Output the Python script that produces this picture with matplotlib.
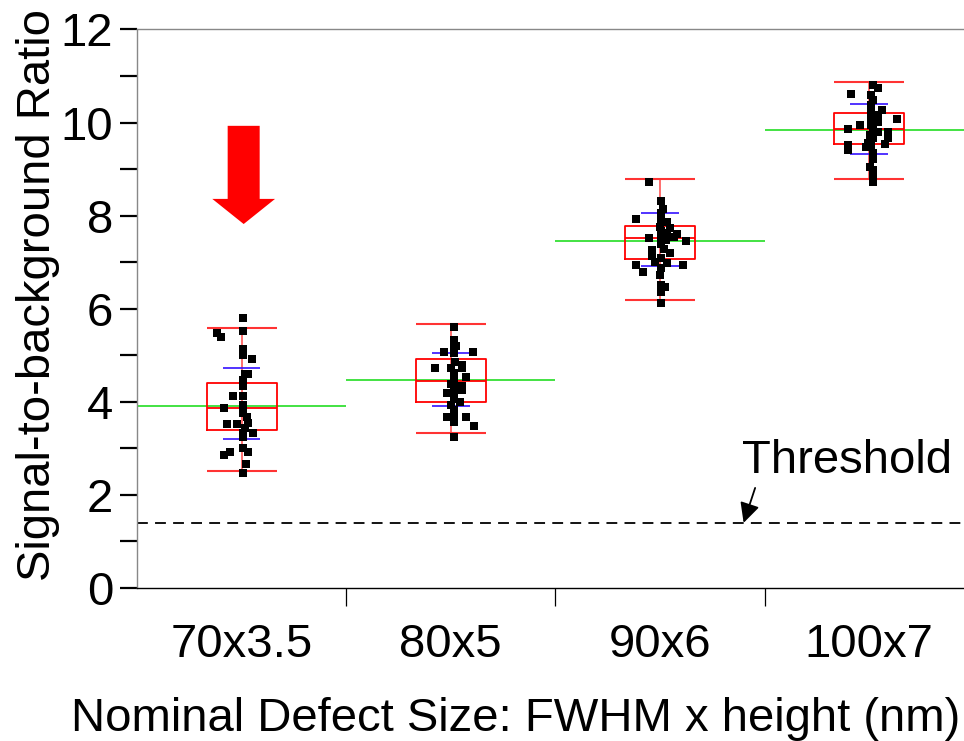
import matplotlib
matplotlib.use("Agg")
from matplotlib import pyplot as plt
from matplotlib.patches import FancyArrow

plt.rcParams['font.family'] = ['Liberation Sans', 'DejaVu Sans']

# categories
sizes = ['70x3.5', '80x5', '90x6', '100x7']

# box stats: lower cap, q1, median, q3, upper cap
cap_lo = [2.51, 3.33, 6.19, 8.79]
q1 = [3.39, 4.00, 7.07, 9.54]
med = [3.87, 4.45, 7.52, 9.86]
q3 = [4.40, 4.92, 7.78, 10.21]
cap_hi = [5.59, 5.67, 8.79, 10.87]
# mean and mean +/- sd
means = [3.91, 4.46, 7.45, 9.85]
sd_lo = [3.20, 3.91, 6.92, 9.33]
sd_hi = [4.73, 5.05, 8.06, 10.40]

# individual measurements (y) and their horizontal jitter
pts1 = [5.80, 5.53, 5.47, 5.40, 5.13, 5.01, 4.93, 4.60, 4.60, 4.47, 4.33, 4.13, 4.13, 3.86, 3.93,
        3.75, 3.67, 3.52, 3.52, 3.55, 3.44, 3.33, 3.33, 3.25, 3.01, 2.93, 2.86, 2.93, 2.66, 2.46]
jit1 = [0.005, 0.005, -0.116, -0.10, 0.005, 0.005, 0.05, 0.016, 0.03, 0.005, 0.005, -0.041, 0.005, -0.084, 0.005,
        0.005, 0.026, -0.07, -0.022, 0.03, 0.016, 0.005, 0.054, 0.005, 0.005, -0.055, -0.084, 0.03, 0.021, 0.005]
pts2 = [5.60, 5.33, 5.22, 5.20, 5.06, 5.06, 5.04, 4.86, 4.79, 4.72, 4.72, 4.72, 4.61, 4.54, 4.47, 4.38,
        4.33, 4.31, 4.25, 4.20, 4.15, 4.05, 4.00, 3.93, 3.82, 3.67, 3.67, 3.57, 3.67, 3.47, 3.25]
jit2 = [0.014, 0.014, 0.014, 0.027, -0.033, 0.104, 0.014, 0.019, 0.056, -0.076, 0.0, 0.056, 0.014, 0.072, 0.014, 0.003,
        0.056, 0.014, 0.056, -0.019, 0.014, 0.014, 0.043, 0.0, 0.014, -0.019, 0.014, 0.014, 0.072, 0.11, 0.014]
pts3 = [8.73, 8.32, 8.14, 8.05, 7.93, 7.93, 7.87, 7.76, 7.73, 7.66, 7.60, 7.62, 7.55, 7.53, 7.51, 7.48, 7.46,
        7.39, 7.26, 7.28, 7.19, 7.13, 7.08, 7.01, 6.99, 6.93, 6.93, 6.87, 6.80, 6.73, 6.51, 6.46, 6.37, 6.12]
jit3 = [-0.053, 0.007, 0.014, 0.007, -0.113, 0.007, 0.033, 0.0, 0.046, 0.007, 0.081, 0.033, 0.065, -0.053, 0.007, 0.031, 0.126,
        0.007, -0.036, 0.018, 0.05, -0.036, 0.007, -0.025, 0.033, -0.113, 0.11, 0.007, -0.081, 0.0, 0.007, 0.022, 0.007, 0.007]
pts4 = [10.81, 10.74, 10.61, 10.59, 10.49, 10.38, 10.27, 10.27, 10.16, 10.07, 10.13, 9.95, 10.02, 9.95, 9.86, 9.84, 9.80,
        9.80, 9.73, 9.66, 9.66, 9.57, 9.54, 9.52, 9.50, 9.41, 9.48, 9.34, 9.21, 9.05, 8.98, 8.84, 8.73]
jit4 = [0.018, 0.042, -0.089, 0.01, 0.018, 0.01, 0.01, 0.063, 0.042, 0.134, 0.01, -0.046, 0.042, 0.01, -0.102, 0.018, 0.042,
        0.089, 0.002, 0.089, 0.018, -0.006, 0.074, -0.102, 0.01, -0.102, -0.014, 0.018, 0.018, 0.002, 0.018, 0.018, 0.018]
points = [pts1, pts2, pts3, pts4]
jitter = [jit1, jit2, jit3, jit4]

threshold = 1.40

fig = plt.figure(figsize=(9.64, 7.41), dpi=100)
ax = fig.add_axes([0.1421, 0.2065, 0.868, 0.7537])

pos = [1, 2, 3, 4]
box_w = 0.335
fs = 34

# green mean lines span the whole category
ax.hlines(means, [p - 0.5 for p in pos], [p + 0.5 for p in pos], color='#22dd22', lw=1.2, zorder=2)

# whisker through the box
ax.vlines(pos, cap_lo, cap_hi, color='#ff5555', lw=1.2, zorder=2)
ax.hlines(cap_lo, [p - box_w / 2 for p in pos], [p + box_w / 2 for p in pos], color='#ff3333', lw=1.5, zorder=2)
ax.hlines(cap_hi, [p - box_w / 2 for p in pos], [p + box_w / 2 for p in pos], color='#ff3333', lw=1.5, zorder=2)

stats = []
for i in range(4):
    stats.append({'med': med[i], 'q1': q1[i], 'q3': q3[i], 'whislo': q1[i], 'whishi': q3[i], 'fliers': []})
ax.bxp(stats, positions=pos, widths=box_w, showcaps=False, showfliers=False, manage_ticks=False,
       boxprops=dict(color='#ff0000', lw=1.3), medianprops=dict(color='#ff0000', lw=1.3),
       whiskerprops=dict(lw=0))

# blue mean +/- sd marks
ax.hlines(sd_lo, [p - 0.09 for p in pos], [p + 0.09 for p in pos], color='#3311ff', lw=1.2, zorder=3)
ax.hlines(sd_hi, [p - 0.09 for p in pos], [p + 0.09 for p in pos], color='#3311ff', lw=1.2, zorder=3)

for i in range(4):
    xs = [pos[i] + j for j in jitter[i]]
    ax.scatter(xs, points[i], marker='s', s=32, color='black', lw=0, zorder=5)

# detection threshold
ax.axhline(threshold, color='black', lw=1.3, ls=(0, (6, 4)), zorder=1)
ax.text(3.39, 2.47, 'Threshold', fontsize=fs, va='baseline', ha='left')
ax.annotate('', xy=(3.40, threshold), xytext=(3.455, 2.15),
            arrowprops=dict(arrowstyle='-|>', color='black', lw=1.3, mutation_scale=30, shrinkA=0, shrinkB=0))

# red highlight arrow over the smallest defect
ax.add_patch(FancyArrow(1.01, 9.93, 0, -2.11, width=0.153, head_width=0.30, head_length=0.54,
                        length_includes_head=True, color='#ff0000', lw=0, zorder=6))

ax.set_xlim(0.5, 4.5)
ax.set_ylim(0, 12)
ax.set_yticks(range(0, 13, 2))
ax.set_yticks(range(1, 12, 2), minor=True)
ax.set_xticks(pos)
ax.set_xticklabels(sizes)
ax.set_xticks([1.5, 2.5, 3.5], minor=True)
ax.tick_params(axis='y', which='both', direction='out', length=12, width=1.6, labelsize=fs, pad=5)
ax.tick_params(axis='x', which='major', length=0, labelsize=fs, pad=25)
ax.tick_params(axis='x', which='minor', direction='out', length=13, width=0.9)

ax.spines['right'].set_visible(False)
ax.spines['left'].set_color('#888888')
ax.spines['top'].set_color('#888888')
ax.spines['left'].set_linewidth(1.0)
ax.spines['top'].set_linewidth(1.0)
ax.spines['bottom'].set_linewidth(1.0)

ax.set_ylabel('Signal-to-background Ratio', fontsize=fs)
ax.yaxis.set_label_coords(-0.092, 0.525)
ax.set_xlabel('Nominal Defect Size: FWHM x height (nm)', fontsize=fs)
ax.xaxis.set_label_coords(0.452, -0.195)

plt.savefig('out.png', dpi=100)
